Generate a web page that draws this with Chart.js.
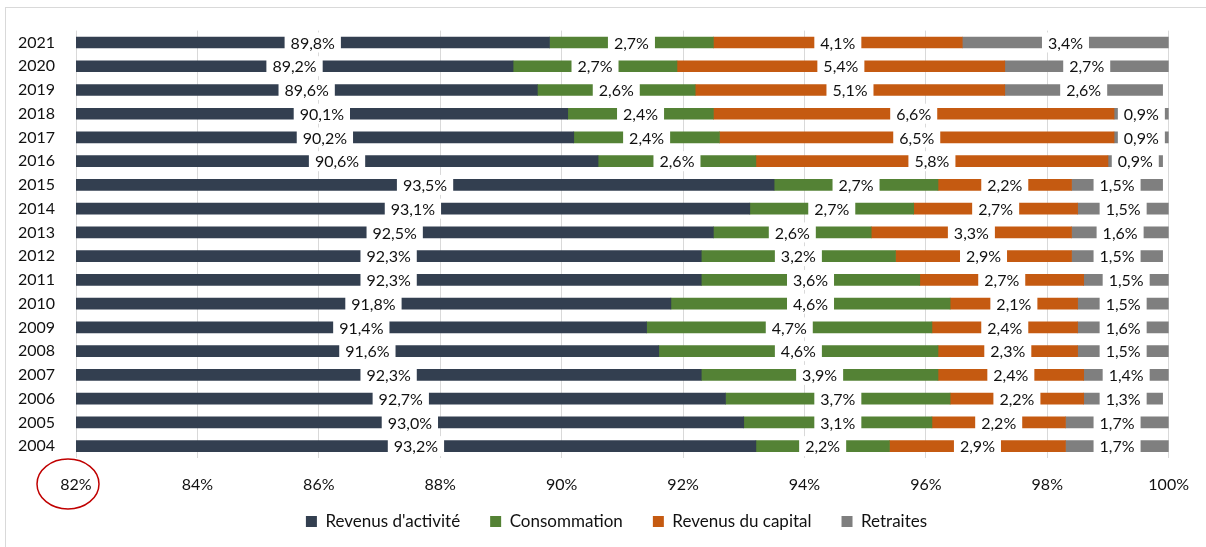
<!DOCTYPE html>
<html>
<head>
<meta charset="utf-8">
<script src="https://cdn.jsdelivr.net/npm/chart.js@4"></script>
<style>
	body { margin: 0; background: #fff; }
	#wrap { position: relative; width: 1206px; height: 547px; }
	#frame { position: absolute; left: 5px; top: 7px; width: 1300px; height: 600px; border: 1px solid #d9d9d9; }
	canvas { position: absolute; left: 0; top: 0; }
</style>
</head>
<body>
<div id="wrap">
	<div id="frame"></div>
	<canvas id="myBars" width="1206" height="547"></canvas>
</div>
<script>
var annees = ['2021','2020','2019','2018','2017','2016','2015','2014','2013','2012','2011','2010','2009','2008','2007','2006','2005','2004'];

var activite     = [89.8, 89.2, 89.6, 90.1, 90.2, 90.6, 93.5, 93.1, 92.5, 92.3, 92.3, 91.8, 91.4, 91.6, 92.3, 92.7, 93.0, 93.2];
var consommation = [2.7, 2.7, 2.6, 2.4, 2.4, 2.6, 2.7, 2.7, 2.6, 3.2, 3.6, 4.6, 4.7, 4.6, 3.9, 3.7, 3.1, 2.2];
var capital      = [4.1, 5.4, 5.1, 6.6, 6.5, 5.8, 2.2, 2.7, 3.3, 2.9, 2.7, 2.1, 2.4, 2.3, 2.4, 2.2, 2.2, 2.9];
var retraites    = [3.4, 2.7, 2.6, 0.9, 0.9, 0.9, 1.5, 1.5, 1.6, 1.5, 1.5, 1.5, 1.6, 1.5, 1.4, 1.3, 1.7, 1.7];

var axeMin = 82, axeMax = 100, pas = 2;

var police = 'Lato, "Open Sans", sans-serif';

// white boxed value in the middle of each segment
var etiquettes = {
	id: 'etiquettes',
	afterDatasetsDraw: function(chart) {
		var ctx = chart.ctx;
		var area = chart.chartArea;
		ctx.save();
		ctx.font = '16px ' + police;
		ctx.textAlign = 'center';
		ctx.textBaseline = 'middle';
		chart.data.datasets.forEach(function(ds, i) {
			var meta = chart.getDatasetMeta(i);
			meta.data.forEach(function(bar, j) {
				var x0 = Math.max(Math.min(bar.base, bar.x), area.left);
				var x1 = Math.min(Math.max(bar.base, bar.x), area.right);
				var cx = (x0 + x1) / 2;
				var txt = ds.data[j].toFixed(1).replace('.', ',') + '%';
				var w = ctx.measureText(txt).width + 12;
				ctx.fillStyle = '#fff';
				ctx.fillRect(cx - w / 2, bar.y - 10, w, 20);
				ctx.fillStyle = '#111';
				ctx.fillText(txt, cx, bar.y + 1);
			});
		});
		ctx.restore();
	}
};

// red circle round the first tick
var cercle = {
	id: 'cercle',
	afterDraw: function(chart) {
		var ctx = chart.ctx;
		var x = chart.scales.x.getPixelForValue(axeMin) - 8;
		ctx.save();
		ctx.strokeStyle = '#c00000';
		ctx.lineWidth = 1.5;
		ctx.beginPath();
		ctx.ellipse(x, 484, 31, 25, 0, 0, Math.PI * 2);
		ctx.stroke();
		ctx.restore();
	}
};

// legend: a bit right of centre, and pulled up (its padding is wide)
var decaleLegende = {
	id: 'decaleLegende',
	afterLayout: function(chart) {
		var lg = chart.legend;
		lg.left += 30;
		lg.right += 30;
		lg.top -= 20;
	}
};

var config = {
	type: 'bar',
	data: {
		labels: annees,
		datasets: [
			{ label: "Revenus d'activité", data: activite, backgroundColor: '#333f50' },
			{ label: 'Consommation', data: consommation, backgroundColor: '#548235' },
			{ label: 'Revenus du capital', data: capital, backgroundColor: '#c55a11' },
			{ label: 'Retraites', data: retraites, backgroundColor: '#7f7f7f' }
		]
	},
	options: {
		indexAxis: 'y',
		responsive: false,
		animation: false,
		layout: { padding: { left: 0, right: 33, top: 24, bottom: 8 } },
		datasets: {
			bar: { barThickness: 11 }
		},
		scales: {
			x: {
				stacked: true,
				min: axeMin,
				max: axeMax,
				ticks: {
					stepSize: pas,
					padding: 17,
					color: '#111',
					font: { family: police, size: 16 },
					callback: function(v) { return v + '%'; }
				},
				grid: { color: '#d9d9d9', drawTicks: false },
				border: { display: false },
				afterFit: function(scale) { scale.height = 45; }
			},
			y: {
				stacked: true,
				ticks: {
					padding: 21,
					color: '#111',
					font: { family: police, size: 16 }
				},
				grid: { display: false, drawTicks: false },
				border: { display: false },
				afterFit: function(scale) { scale.width = 76; }
			}
		},
		plugins: {
			legend: {
				position: 'bottom',
				maxHeight: 36,
				labels: {
					boxWidth: 11,
					boxHeight: 11,
					padding: 30,
					color: '#111',
					font: { family: police, size: 17 }
				}
			},
			tooltip: { enabled: false }
		}
	},
	plugins: [etiquettes, cercle, decaleLegende]
};

var bars = new Chart(document.getElementById('myBars'), config);
</script>
</body>
</html>
